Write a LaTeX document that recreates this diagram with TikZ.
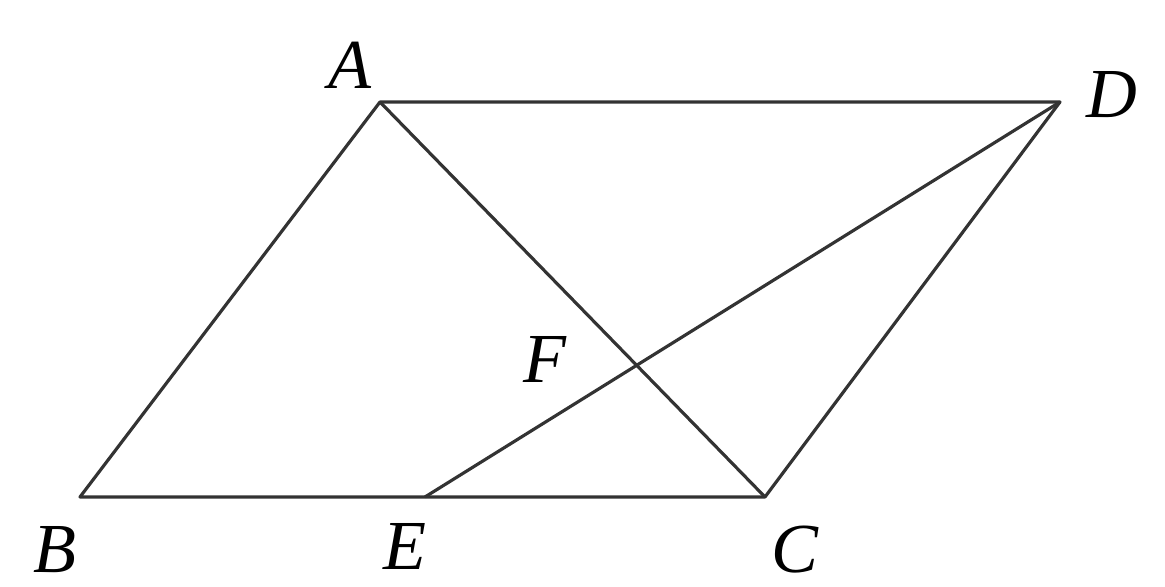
\documentclass[tikz,border=0pt]{standalone}
\usepackage{fontspec}
\setmainfont{Liberation Serif}
\usetikzlibrary{positioning}

\begin{document}
\begin{tikzpicture}[
        edge/.style={draw=black!80, line width=0.9pt, line join=round},
        pt/.style={font=\fontsize{20}{24}\selectfont\itshape, inner sep=0pt}
    ]
        \useasboundingbox (0,0) rectangle (11.65,5.87);

        % Vertices
        \coordinate (A) at (3.80,4.85);
        \coordinate (D) at (10.60,4.85);
        \coordinate (B) at (0.80,0.90);
        \coordinate (C) at (7.65,0.90);
        \coordinate (E) at (4.25,0.90);
        \coordinate (F) at (intersection of A--C and D--E);

        % Parallelogram and segments
        \draw[edge] (A) -- (D) -- (C) -- (B) -- cycle;
        \draw[edge] (A) -- (C);
        \draw[edge] (D) -- (E);

        % Labels
        \node[pt] (lA) at (3.50,5.22) {A};
        \node[pt] (lD) at (11.12,4.92) {D};
        \node[pt] (lB) at (0.55,0.37) {B};
        \node[pt] (lE) at (4.05,0.40) {E};
        \node[pt] (lC) at (7.95,0.37) {C};
        \node[pt] (lF) at (5.45,2.27) {F};
    \end{tikzpicture}
\end{document}
